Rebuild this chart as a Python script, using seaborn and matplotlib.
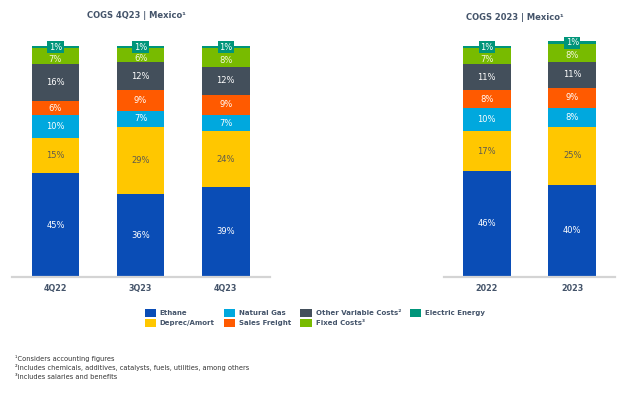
import matplotlib

matplotlib.use("Agg")
import matplotlib.pyplot as plt
import numpy as np
import pandas as pd
import seaborn as sns
from matplotlib.patches import Patch

# segment order from bottom to top
SEGMENTS = [
    "Ethane",
    "Deprec/Amort",
    "Natural Gas",
    "Sales Freight",
    "Other Variable Costs²",
    "Fixed Costs³",
    "Electric Energy",
]
COLORS = ["#0A4DB6", "#FFC700", "#00A8DE", "#FF5A00", "#434F5B", "#78BB00", "#00957A"]
TEXT_COLORS = ["white", "#5E5A50", "white", "white", "white", "#F4F7E0", "white"]

quarters = ["4Q22", "3Q23", "4Q23"]
quarter_vals = {
    "Ethane": [45, 36, 39],
    "Deprec/Amort": [15, 29, 24],
    "Natural Gas": [10, 7, 7],
    "Sales Freight": [6, 9, 9],
    "Other Variable Costs²": [16, 12, 12],
    "Fixed Costs³": [7, 6, 8],
    "Electric Energy": [1, 1, 1],
}

years = ["2022", "2023"]
year_vals = {
    "Ethane": [46, 40],
    "Deprec/Amort": [17, 25],
    "Natural Gas": [10, 8],
    "Sales Freight": [8, 9],
    "Other Variable Costs²": [11, 11],
    "Fixed Costs³": [7, 8],
    "Electric Energy": [1, 1],
}

TITLE_COLOR = "#44546A"


def stacked(ax, cats, vals):
    df = pd.DataFrame(vals, index=cats)[SEGMENTS]
    cum = df.cumsum(axis=1)
    # draw cumulative totals from the top layer down so each overlays the next
    for i in range(len(SEGMENTS) - 1, -1, -1):
        seg = SEGMENTS[i]
        sns.barplot(x=cats, y=cum[seg].values, order=cats, color=COLORS[i],
                    width=0.56, saturation=1, ax=ax, linewidth=0)
    for j, cat in enumerate(cats):
        for i, seg in enumerate(SEGMENTS):
            v = df.loc[cat, seg]
            mid = cum.loc[cat, seg] - v / 2
            if seg == "Electric Energy":
                ax.text(j, cum.loc[cat, seg] - 0.6, f"{v}%", ha="center", va="center",
                        fontsize=6, color="white", zorder=5,
                        bbox=dict(boxstyle="square,pad=0.18", fc=COLORS[i], ec="none"))
            elif seg == "Fixed Costs³":
                # nudged down a little so it sits under the small teal box
                ax.text(j, mid - 1.2, f"{v}%", ha="center", va="center",
                        fontsize=6, color=TEXT_COLORS[i])
            else:
                ax.text(j, mid, f"{v}%", ha="center", va="center",
                        fontsize=6, color=TEXT_COLORS[i])
    ax.set_ylim(0, 100)
    ax.set_yticks([])
    ax.set_ylabel("")
    ax.set_xlabel("")
    for s in ["top", "right", "left"]:
        ax.spines[s].set_visible(False)
    ax.spines["bottom"].set_color("#D4D4D4")
    ax.spines["bottom"].set_linewidth(1.6)
    ax.tick_params(axis="x", length=0, pad=5)
    for lab in ax.get_xticklabels():
        lab.set_fontweight("bold")
        lab.set_fontsize(5.8)
        lab.set_color(TITLE_COLOR)


sns.set_style("white")
plt.rcParams["font.family"] = ["DejaVu Sans"]

fig = plt.figure(figsize=(6.32, 3.93), dpi=100)
W, H = 632, 393
base, top = 277, 46

ax1 = fig.add_axes([12 / W, 1 - base / H, (270 - 12) / W, (base - top) / H])
stacked(ax1, quarters, quarter_vals)
ax1.set_xlim(-0.51, 2.52)

ax2 = fig.add_axes([444 / W, 1 - base / H, (615 - 444) / W, (base - top) / H])
stacked(ax2, years, year_vals)
ax2.set_xlim(-0.5, 1.5)
for a in (ax1, ax2):
    for p in a.patches:
        p.set_clip_on(False)

fig.text(136 / W, 1 - 16 / H, "COGS 4Q23 | Mexico¹", ha="center", va="center",
         fontsize=6, fontweight="bold", color=TITLE_COLOR)
fig.text(515 / W, 1 - 17 / H, "COGS 2023 | Mexico¹", ha="center", va="center",
         fontsize=6, fontweight="bold", color=TITLE_COLOR)

# matplotlib fills legend columns top to bottom, so natural order gives the reference layout
handles = [Patch(facecolor=COLORS[i], edgecolor="none", label=SEGMENTS[i]) for i in range(len(SEGMENTS))]
leg = fig.legend(handles=handles, ncol=4, loc="center", bbox_to_anchor=(315 / W, 1 - 318 / H),
                 frameon=False, fontsize=5, handlelength=1.6, handleheight=1.3,
                 handletextpad=0.6, columnspacing=1.3, labelspacing=0.35)
for t in leg.get_texts():
    t.set_fontweight("bold")
    t.set_color(TITLE_COLOR)

notes = [
    "¹Considers accounting figures",
    "²Includes chemicals, additives, catalysts, fuels, utilities, among others",
    "³Includes salaries and benefits",
]
for k, n in enumerate(notes):
    fig.text(15 / W, 1 - (358 + 9.6 * k) / H, n, ha="left", va="center",
             fontsize=4.8, color="#333333")

fig.savefig("out.png", dpi=100)
